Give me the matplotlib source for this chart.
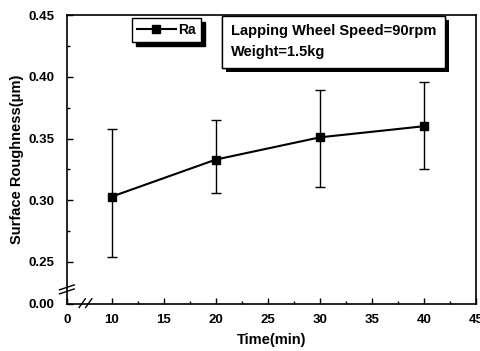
import matplotlib
matplotlib.use('Agg')
import matplotlib.pyplot as plt
import matplotlib.patheffects as pe
import numpy as np

plt.rcParams['font.family'] = ['Liberation Sans', 'DejaVu Sans']
plt.rcParams['font.weight'] = 'bold'

# data
time_min = [10, 20, 30, 40]
ra = [0.303, 0.333, 0.351, 0.360]
err_low = [0.254, 0.306, 0.311, 0.325]
err_high = [0.358, 0.365, 0.389, 0.396]

y_ticks = [0.25, 0.30, 0.35, 0.40, 0.45]
x_ticks = [10, 15, 20, 25, 30, 35, 40, 45]

# broken axes: the "0" ends are squeezed in below/left of the break
y_zero = 0.216
x_zero = 5.67

fig = plt.figure(figsize=(4.81, 3.51), dpi=100)
ax = fig.add_axes([0.139, 0.134, 0.851, 0.823])

yerr = [np.array(ra) - np.array(err_low), np.array(err_high) - np.array(ra)]
ax.errorbar(time_min, ra, yerr=yerr, color='black', lw=1.5, elinewidth=1.0,
            capsize=3.5, capthick=1.0, fmt='none')
ax.plot(time_min, ra, color='black', lw=1.5, marker='s', markersize=6, label='Ra')

ax.set_xlim(x_zero, 45)
ax.set_ylim(y_zero, 0.45)
ax.set_xticks([x_zero] + x_ticks)
ax.set_xticklabels(['0'] + [str(t) for t in x_ticks])
ax.set_yticks([y_zero] + y_ticks)
ax.set_yticklabels(['0.00'] + ['%.2f' % t for t in y_ticks])
ax.set_xticks([12.5, 17.5, 22.5, 27.5, 32.5, 37.5, 42.5], minor=True)
ax.set_yticks([0.275, 0.325, 0.375, 0.425], minor=True)
ax.tick_params(axis='x', direction='in', length=4, width=1, labelsize=9.5, pad=7)
ax.tick_params(axis='y', direction='in', length=4, width=1, labelsize=9.5, pad=9)
ax.tick_params(which='minor', direction='in', length=2, width=1)
for s in ax.spines.values():
    s.set_linewidth(1.2)

ax.set_xlabel('Time(min)', fontsize=10.5, fontweight='bold', labelpad=5)
ax.set_ylabel('Surface Roughness(μm)', fontsize=10.5, fontweight='bold', labelpad=3)

# break marks
for dx in (0.0, 0.016):
    ax.plot([0.03 + dx, 0.045 + dx], [-0.012, 0.018], color='black', lw=1,
            transform=ax.transAxes, clip_on=False)
for dy in (0.0, 0.014):
    ax.plot([-0.018, 0.018], [0.035 + dy, 0.052 + dy], color='black', lw=1,
            transform=ax.transAxes, clip_on=False)

leg = ax.legend(loc='upper left', bbox_to_anchor=(0.159, 0.99), fontsize=10,
                frameon=True, fancybox=False, handlelength=2.8,
                handletextpad=0.2, borderpad=0.35, borderaxespad=0,
                edgecolor='black',
                shadow={'color': 'black', 'ox': 3, 'oy': -3, 'alpha': 1})
leg.get_frame().set_linewidth(1)

t = ax.text(0.401, 0.968, 'Lapping Wheel Speed=90rpm\nWeight=1.5kg',
            transform=ax.transAxes, fontsize=10.5, fontweight='bold',
            va='top', ha='left', linespacing=1.6,
            bbox=dict(boxstyle='square,pad=0.6', fc='white', ec='black', lw=1))
t.get_bbox_patch().set_path_effects([
    pe.withSimplePatchShadow(offset=(3, -3), shadow_rgbFace='black', alpha=1),
    pe.Normal()])

fig.savefig('out.png', dpi=100)
